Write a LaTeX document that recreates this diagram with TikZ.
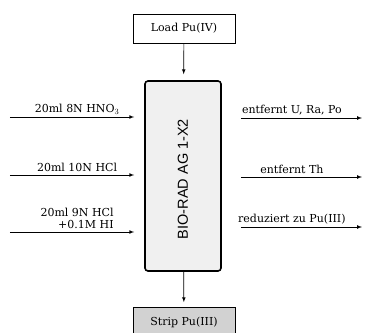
\documentclass[tikz,border=0pt]{standalone}
\usepackage{fontspec}
\setmainfont{DejaVu Serif}
\setsansfont{Liberation Sans}
\usetikzlibrary{positioning}
\tikzset{
  labelbox/.style={draw, semithick, minimum width=102pt, minimum height=29pt, inner sep=2pt},
  colbox/.style={draw, line width=1.6pt, rounded corners=3pt, fill=gray!12,
    minimum width=76pt, minimum height=190pt},
  flow/.style={-latex, line width=0.7pt},
  lbl/.style={above, inner sep=2.5pt}
}
\begin{document}
\begin{tikzpicture}[x=1pt,y=-1pt,font=\fontsize{11}{12.5}\selectfont]
  \useasboundingbox (0,0) rectangle (368,333);
  % boxes
  \node[labelbox] (load) at (184,28.5) {Load Pu(IV)};
  \node[colbox] (column) at (183,176) {};
  \node[rotate=90, font=\sffamily\fontsize{14.5}{16}\selectfont] (resin) at (183,179) {BIO-RAD AG 1-X2};
  \node[labelbox, fill=gray!35] (strip) at (184,322) {Strip Pu(III)};
  \draw[flow, shorten >=6pt] (load) -- (column);
  \draw[flow, shorten >=5pt] (column) -- (strip);
  % inputs
  \coordinate (in1) at (10,117);
  \coordinate (in2) at (10,175);
  \coordinate (in3) at (10,232);
  \draw[flow, shorten >=10pt] (in1) -- (column.west |- in1)
    node[lbl, midway] {20ml 8N HNO$_3$};
  \draw[flow, shorten >=10pt] (in2) -- (column.west |- in2)
    node[lbl, midway] {20ml 10N HCl};
  \draw[flow, shorten >=10pt] (in3) -- (column.west |- in3)
    node[lbl, midway, align=right] {20ml 9N HCl\\+0.1M HI};
  % outputs
  \coordinate (out1) at (362,118);
  \coordinate (out2) at (362,177);
  \coordinate (out3) at (362,227);
  \draw[flow, shorten <=19pt] (column.east |- out1) -- (out1)
    node[lbl, midway] {entfernt U, Ra, Po};
  \draw[flow, shorten <=19pt] (column.east |- out2) -- (out2)
    node[lbl, midway] {entfernt Th};
  \draw[flow, shorten <=19pt] (column.east |- out3) -- (out3)
    node[lbl, midway] {reduziert zu Pu(III)};
\end{tikzpicture}
\end{document}
